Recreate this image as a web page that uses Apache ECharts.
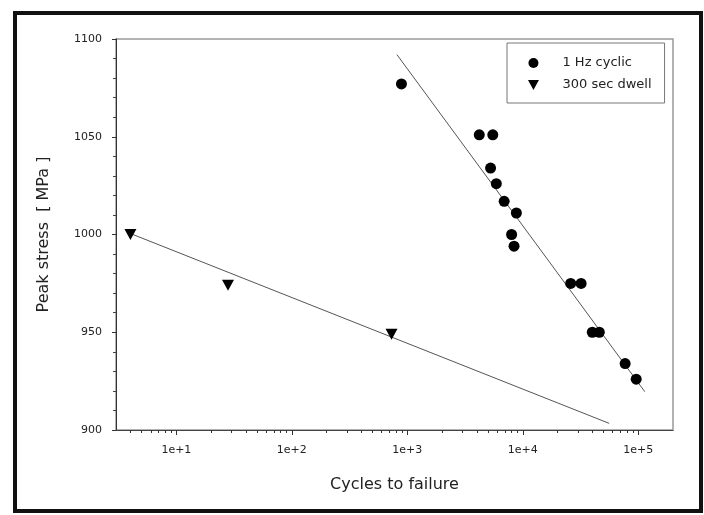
<!DOCTYPE html>
<html>
<head>
<meta charset="utf-8">
<script src="https://cdn.jsdelivr.net/npm/echarts@6/dist/echarts.min.js"></script>
<style>
  html, body { margin: 0; padding: 0; background: #ffffff; }
  #chart { width: 704px; height: 515px; }
</style>
</head>
<body>
<div id="chart"></div>
<script>
// ---- data ----
const cyclicN      = [890, 4200, 5500, 5260, 5900, 6900, 8800, 8000, 8400, 26000, 32000, 40000, 46000, 77000, 96000];
const cyclicStress = [1077, 1051, 1051, 1034, 1026, 1017, 1011, 1000, 994, 975, 975, 950, 950, 934, 926];
const dwellN       = [4, 28, 730];
const dwellStress  = [1000, 974, 949];
const cyclicFitN      = [813, 114000];
const cyclicFitStress = [1092, 919.6];
const dwellFitN       = [4, 56000];
const dwellFitStress  = [1000.5, 903.4];
const xMajorTicks = [10, 100, 1000, 10000, 100000];
const xMinorTicks = [4, 5, 6, 7, 8, 9, 20, 30, 40, 50, 60, 70, 80, 90, 200, 300, 400, 500, 600, 700, 800, 900,
                     2000, 3000, 4000, 5000, 6000, 7000, 8000, 9000, 20000, 30000, 40000, 50000, 60000, 70000, 80000, 90000];
const seriesNames = ['1 Hz cyclic', '300 sec dwell'];
const xTitle = 'Cycles to failure';
const yTitle = 'Peak stress  [ MPa ]';

function pairs(xs, ys) { return xs.map((x, i) => [x, ys[i]]); }

const FONT = 'DejaVu Sans';
const chart = echarts.init(document.getElementById('chart'), null, { renderer: 'canvas' });

chart.setOption({
  backgroundColor: '#ffffff',
  animation: false,
  graphic: [{
    type: 'rect', z: 100, silent: true,
    shape: { x: 15, y: 13, width: 686, height: 498 },
    style: { fill: 'none', stroke: '#111', lineWidth: 4 }
  }],
  grid: { left: 116, right: 31, top: 39, bottom: 85, show: true, borderColor: '#999', borderWidth: 1.5, backgroundColor: 'transparent' },
  legend: {
    orient: 'vertical', left: 507, top: 43,
    padding: [13, 13, 11, 21],
    itemWidth: 12, itemHeight: 10, itemGap: 8,
    borderColor: '#777', borderWidth: 1, borderRadius: 0,
    textStyle: { fontFamily: FONT, fontSize: 13, color: '#222', lineHeight: 14, padding: [0, 0, 0, 18] },
    data: [
      { name: seriesNames[0], icon: 'circle', itemStyle: { color: '#000', opacity: 1 } },
      { name: seriesNames[1], icon: 'path://M0,0 L12,0 L6,11 Z', itemStyle: { color: '#000', opacity: 1 } }
    ]
  },
  xAxis: [{
    type: 'log', min: 3, max: 200000, logBase: 10,
    name: xTitle, nameLocation: 'middle', nameGap: 47,
    nameTextStyle: { fontFamily: FONT, fontSize: 16, color: '#222' },
    axisLine: { show: true, lineStyle: { color: '#444', width: 1 } },
    axisTick: { show: true, inside: false, length: 5, customValues: xMajorTicks, lineStyle: { color: '#333', width: 1 } },
    axisLabel: { customValues: xMajorTicks, margin: 15, fontFamily: FONT, fontSize: 11, color: '#222',
                 formatter: v => '1e+' + Math.round(Math.log10(v)) },
    splitLine: { show: false }
  }, {
    type: 'log', min: 3, max: 200000, logBase: 10, position: 'bottom', offset: 0,
    axisLine: { show: false },
    axisTick: { show: true, inside: false, length: 3, customValues: xMinorTicks, lineStyle: { color: '#333', width: 1 } },
    axisLabel: { show: false },
    splitLine: { show: false }
  }],
  yAxis: {
    type: 'value', min: 900, max: 1100, interval: 50,
    name: yTitle, nameLocation: 'middle', nameGap: 64, nameRotate: 90,
    nameTextStyle: { fontFamily: FONT, fontSize: 16, color: '#222' },
    axisLine: { show: true, lineStyle: { color: '#333', width: 1 } },
    axisTick: { show: true, inside: false, length: 4, lineStyle: { color: '#333' } },
    minorTick: { show: true, splitNumber: 5, length: 3, lineStyle: { color: '#444' } },
    axisLabel: { margin: 14, fontFamily: FONT, fontSize: 11, color: '#222', formatter: v => String(v) },
    splitLine: { show: false }
  },
  series: [
    {
      name: 'cyclic fit', type: 'line', data: pairs(cyclicFitN, cyclicFitStress),
      symbol: 'none', lineStyle: { color: '#555', width: 1 }, z: 1, silent: true
    },
    {
      name: 'dwell fit', type: 'line', data: pairs(dwellFitN, dwellFitStress),
      symbol: 'none', lineStyle: { color: '#555', width: 1 }, z: 1, silent: true
    },
    {
      name: seriesNames[0], type: 'scatter', data: pairs(cyclicN, cyclicStress),
      symbol: 'circle', symbolSize: 11, itemStyle: { color: '#000', opacity: 1 }, z: 3
    },
    {
      name: seriesNames[1], type: 'scatter', data: pairs(dwellN, dwellStress),
      symbol: 'triangle', symbolRotate: 180, symbolSize: [12, 11], itemStyle: { color: '#000', opacity: 1 }, z: 3
    }
  ]
});
</script>
</body>
</html>
